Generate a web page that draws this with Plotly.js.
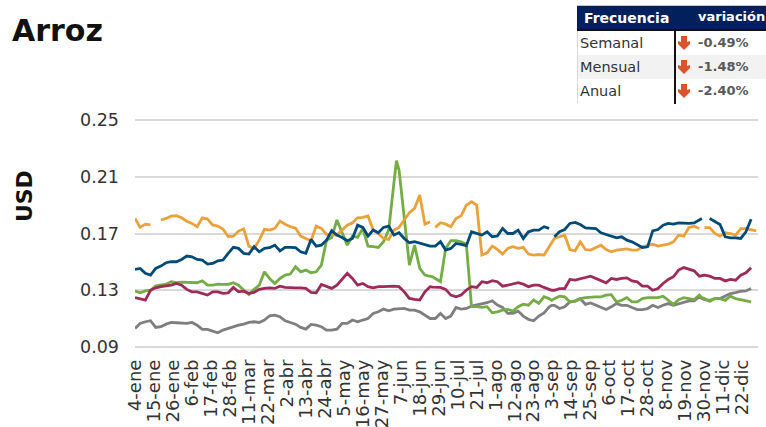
<!DOCTYPE html>
<html>
<head>
<meta charset="utf-8">
<script src="https://cdn.plot.ly/plotly-3.0.1.min.js"></script>
<style>html,body{margin:0;padding:0;background:#fff}#chart{width:766px;height:427px}</style>
</head>
<body>
<div id="chart"></div>
<script>
const dias = [
0,3,6,9,12,15,18,21,24,27,
30,33,36,39,42,45,48,51,54,57,
60,63,66,69,72,75,78,81,84,87,
90,93,96,99,102,105,108,111,114,117,
120,123,126,129,132,135,138,141,144,147,
150,151.5,153,156,159,162,165,168,171,172.5,174,177,
180,183,186,189,192,195,198,201,204,207,
210,213,216,219,222,225,228,231,234,237,
240,241.5,243,246,249,252,255,258,261,264,267,
270,273,276,279,282,285,288,291,294,297,
300,303,306,309,312,315,318,321,324,327,328.5,
330,333,336,339,342,345,348,351,354,357,360];

const naranja = [
.1806,.1743,.1766,.176,null,.1795,.1806,.1823,.1825,.1811,
.1787,.1771,.1748,.1811,.1802,.176,.1752,.1731,.1679,.1682,
.1717,.1733,.1611,.1595,.1653,.1729,.1724,.1736,.1787,.1766,
.1748,.1738,.1682,.1665,.1649,.1752,.1736,.1693,.1689,.1689,
.1724,.1759,.1776,.1811,.1813,.1823,.1724,.17,.1665,.1658,
.1724,.1733,.1743,.1795,.1846,.1877,.1971,.1766,.1783,null,.1743,.1776,
.1766,.1748,.1806,.1825,.19,.1924,.19,.1548,.1564,.1611,
.1588,.1555,.1595,.1607,.1595,.1602,.1555,.1548,.1552,.1548,
.1606,.1634,.1665,.1677,.1688,.1587,.1578,.1641,.1587,.1583,.1601,
.1618,.1587,.1571,.1583,.1587,.1592,.1583,.1583,.1606,.1618,
.1625,.1611,.1618,.1625,.1641,.1688,.1681,.1742,.1752,.1735,null,
.1742,.1742,.17,.1681,.1705,.17,.1688,.1735,.1735,.1728,.1719];

const azul = [
.1447,.1454,.1419,.1407,.1454,.147,.1494,.1501,.1501,.1517,
.1541,.1536,.1517,.1513,.1484,.1489,.1508,.1513,.156,.1602,
.1595,.156,.1555,.1607,.1571,.1595,.16,.1618,.1578,.1602,
.1602,.16,.1571,.156,.1658,.1611,.1618,.1653,.172,.1689,
.1672,.1649,.1665,.1759,.1743,.1682,.1724,.1705,.1743,.1752,
.1689,.17,.1705,.1665,.1635,.1642,.163,.1623,.1611,.1611,.1611,.1642,
.1583,.1595,.163,.1623,.1614,.1712,.17,.1689,.1712,.1677,
.1682,.1736,.17,.17,.1724,.1665,.1712,.1724,.1724,.1748,
.1736,null,.1677,.1712,.1728,.1771,.1778,.1763,.174,.1735,.1735,
.1705,.1693,.1677,.1669,.1677,.1653,.1641,.1622,.1601,.1606,
.1719,.1728,.1759,.1771,.1766,.1775,.1771,.1771,.1775,.1794,.1806,
null,.1806,.1782,.1763,.1677,.1669,.1669,.1665,.1712,.18,null];

const carmesi = [
.1249,.1242,.1231,.13,.1317,.1325,.1329,.1336,.1348,.1336,
.1306,.1289,.1289,.1278,.1266,.1289,.1289,.1278,.1282,.132,
.1289,.1294,.1278,.1285,.1306,.1313,.1317,.1313,.1329,.132,
.1317,.1317,.1317,.1313,.1285,.1282,.1341,.1329,.1313,.1336,
.1376,.1419,.1383,.1336,.1348,.1325,.1317,.1325,.1325,.1329,
.1329,.1327,.1325,.1289,.1242,.1235,.1231,.1289,.1325,.1322,.132,.132,
.1306,.1266,.1254,.1266,.1301,.1325,.132,.136,.1353,.1367,
.136,.1329,.1336,.1343,.1353,.1343,.1325,.1336,.1336,.132,
.1305,.13,.13,.1312,.1312,.1376,.1371,.1383,.139,.1399,.1383,
.1366,.1352,.1383,.1376,.1383,.1387,.1366,.1359,.1329,.1329,
.13,.1312,.1348,.1376,.1395,.1442,.146,.1449,.1437,.1399,.1402,
.1406,.1399,.1383,.1383,.1366,.1376,.1371,.1406,.1423,.1458,null];

const verde = [
.1294,.1282,.1296,.13,.1332,.1336,.1343,.136,.1353,.1357,
.1357,.1353,.1353,.1367,.1336,.1336,.1343,.1341,.1341,.1353,
.1336,.13,.127,.1306,.1336,.143,.1383,.1348,.1383,.1407,
.1414,.1466,.143,.1442,.1423,.143,.1477,.1653,.1672,.1795,
.1712,.1618,.1682,.1672,.1736,.1611,.1607,.1602,.1642,.1724,
.2053,.2213,.2147,.1818,.1477,.1618,.1454,.1407,.14,.1395,.1383,.136,
.1595,.1649,.1649,.1642,.1625,.1184,.1184,.1179,.1184,.1141,
.1148,.116,.1165,.1153,.1184,.1202,.1195,.1231,.1207,.1254,
.1241,.1229,.1241,.1258,.1253,.1218,.1222,.1241,.1248,.1253,.1253,
.1253,.1265,.1269,.1218,.1229,.1248,.1218,.1218,.1241,.1248,
.1248,.1248,.1258,.1229,.1201,.1234,.1248,.1241,.1234,.1265,.1248,
.1241,.1222,.1241,.1241,.1229,.1258,.1241,.1234,.1229,.1218,null];

const gris = [
.1031,.1066,.1078,.1085,.1038,.1043,.1061,.1073,.1071,.1066,
.1066,.1073,.1054,.1024,.1024,.1012,.1,.1019,.1031,.1043,
.1054,.1061,.1073,.1078,.1073,.109,.112,.1125,.1113,.1085,
.1073,.1061,.1038,.1026,.1059,.1054,.1043,.1019,.1019,.1026,
.1066,.1066,.109,.1078,.109,.1101,.1137,.1148,.1167,.1155,
.1167,.1167,.1169,.1172,.116,.116,.1148,.1125,.1101,.1101,.1101,.1137,
.1101,.1118,.1179,.1167,.1172,.1188,.1195,.12,.1212,.1226,
.1195,.1179,.1137,.1137,.1153,.1118,.1094,.1085,.1118,.1141,
.1183,.1194,.1194,.1171,.1183,.1218,.1225,.1241,.1201,.1211,.1194,
.1178,.1164,.1183,.1206,.1194,.1194,.1178,.1164,.1164,.1171,
.1194,.1178,.1194,.1206,.1194,.1206,.1213,.1225,.1225,.1253,.1241,
.1234,.1229,.1241,.1241,.1258,.1277,.1284,.1293,.1295,.1312,null];

const tickDias = [0,11,22,33,44,55,66,77,88,99,110,121,132,143,154,165,176,187,198,209,220,231,242,253,264,275,286,297,308,319,330,341,352];
const tickEtiquetas = ["4-ene","15-ene","26-ene","6-feb","17-feb","28-feb","11-mar","22-mar","2-abr","13-abr","24-abr","5-may","16-may","27-may","7-jun","18-jun","29-jun","10-jul","21-jul","1-ago","12-ago","23-ago","3-sep","14-sep","25-sep","6-oct","17-oct","28-oct","8-nov","19-nov","30-nov","11-dic","22-dic"];
const yTicks = [0.09,0.13,0.17,0.21,0.25];
const yEtiquetas = ["0.09","0.13","0.17","0.21","0.25"];

const frecuencias = ["Semanal","Mensual","Anual"];
const variaciones = ["-0.49%","-1.48%","-2.40%"];

const W = 766, H = 427, L = 135, R = 758, T = 118, B = 348.7;
const FONT = "DejaVu Sans, sans-serif";
const px = x => (x - L) / (R - L);
const py = y => (B - y) / (B - T);

function serie(y, color) {
  return {x: dias, y: y, type: "scatter", mode: "lines", connectgaps: false,
          line: {color: color, width: 2.8, shape: "linear"}, hoverinfo: "skip", showlegend: false};
}
const data = [
  serie(gris, "#7f7f7f"),
  serie(verde, "#75ac45"),
  serie(carmesi, "#9c2a5a"),
  serie(naranja, "#e9a23b"),
  serie(azul, "#004b75")
];

function rect(x0, y0, x1, y1, fill) {
  return {type: "rect", xref: "paper", yref: "paper", layer: "above",
          x0: px(x0), x1: px(x1), y0: py(y0), y1: py(y1), fillcolor: fill, line: {width: 0}};
}
function flecha(cy) {
  const p = [[681,-7],[687,-7],[687,-1],[690,-2],[690,1],[684,7],[678,1],[678,-2],[681,-1]];
  const path = "M" + p.map(q => px(q[0]) + "," + py(cy + q[1])).join("L") + "Z";
  return {type: "path", xref: "paper", yref: "paper", layer: "above", path: path,
          fillcolor: "#d9532c", line: {width: 0}};
}
function texto(x, y, t, size, color, bold) {
  return {xref: "paper", yref: "paper", x: px(x - 2), y: py(y), xanchor: "left", yanchor: "middle",
          text: bold ? "<b>" + t + "</b>" : t, showarrow: false,
          font: {family: FONT, size: size, color: color}};
}

const filasY = [43, 67, 91];
const shapes = [
  rect(577, 6, 766, 29, "#02215c"),
  rect(577, 29, 766, 31, "#111111"),
  rect(577, 31, 766, 55, "#ffffff"),
  rect(577, 55, 766, 79, "#f2f2f2"),
  rect(577, 79, 766, 103, "#ffffff"),
  rect(577, 31, 578, 103, "#d9d9d9"),
  rect(674, 30, 676, 104, "#111111")
].concat(filasY.map(flecha));

const annotations = [
  texto(584, 18, "Frecuencia", 14, "#ffffff", true),
  texto(698, 17, "variación", 13, "#ffffff", true),
  {xref: "paper", yref: "paper", x: px(24), y: py(196), xanchor: "center", yanchor: "middle",
   text: "<b>USD</b>", textangle: -90, showarrow: false,
   font: {family: FONT, size: 22, color: "#111111"}}
];
filasY.forEach((y, i) => {
  annotations.push(texto(580, y, frecuencias[i], 14.5, "#333333", false));
  annotations.push(texto(698, y, variaciones[i], 13, "#595959", true));
});

const layout = {
  width: W, height: H,
  margin: {l: L, r: W - R, t: T, b: H - B, pad: 0},
  paper_bgcolor: "#ffffff", plot_bgcolor: "#ffffff",
  title: {text: "<b>Arroz</b>", x: 12 / W, xanchor: "left", xref: "container",
          y: 1 - 30 / H, yanchor: "middle", yref: "container",
          font: {family: FONT, size: 30, color: "#111111"}},
  xaxis: {type: "linear", range: [0, 361], tickmode: "array", tickvals: tickDias, ticktext: tickEtiquetas,
          tickangle: -90, tickfont: {family: FONT, size: 18, color: "#333333"}, ticklabelstandoff: 6,
          showgrid: false, zeroline: false, showline: false, ticks: "", ticklen: 0},
  yaxis: {type: "linear", range: [0.08859, 0.25141], tickmode: "array", tickvals: yTicks, ticktext: yEtiquetas,
          tickfont: {family: FONT, size: 17.5, color: "#333333"}, ticklabelstandoff: 15,
          showgrid: true, gridcolor: "#d9d9d9", gridwidth: 2, zeroline: false, showline: false, ticks: ""},
  shapes: shapes,
  annotations: annotations,
  showlegend: false
};
Plotly.newPlot("chart", data, layout, {displayModeBar: false, staticPlot: true});
</script>
</body>
</html>
